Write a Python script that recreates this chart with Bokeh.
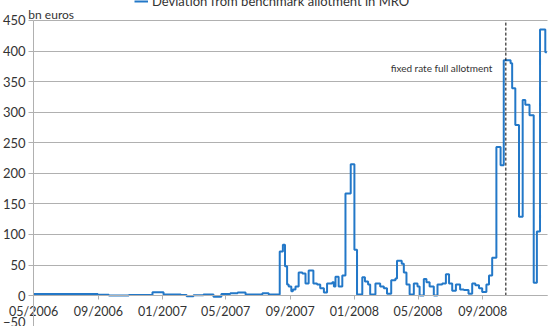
import pandas as pd
from bokeh.plotting import figure
from bokeh.models import Range1d, FixedTicker, DatetimeTickFormatter, Label, Legend, LegendItem
from bokeh.embed import file_html
from bokeh.resources import INLINE

# Weekly MRO deviation from benchmark allotment (bn euros), change points of the step line
dates = [
    "2006-05-01", "2006-08-31", "2006-09-21", "2006-10-29", "2006-12-13",
    "2007-01-03", "2007-02-05", "2007-02-16", "2007-03-01", "2007-03-20",
    "2007-04-08", "2007-04-23", "2007-05-10", "2007-05-24", "2007-06-08",
    "2007-07-10", "2007-07-22", "2007-08-12", "2007-08-18", "2007-08-22",
    "2007-08-26", "2007-08-29", "2007-09-03", "2007-09-06", "2007-09-11",
    "2007-09-17", "2007-09-24", "2007-09-30", "2007-10-06", "2007-10-15",
    "2007-10-22", "2007-10-28", "2007-11-04", "2007-11-10", "2007-11-20",
    "2007-11-23", "2007-11-26", "2007-12-02", "2007-12-09", "2007-12-15",
    "2007-12-25", "2008-01-01", "2008-01-06", "2008-01-16", "2008-01-21",
    "2008-01-27", "2008-01-31", "2008-02-10", "2008-02-19", "2008-02-26",
    "2008-03-03", "2008-03-11", "2008-03-19", "2008-03-22", "2008-03-31",
    "2008-04-04", "2008-04-09", "2008-04-15", "2008-04-23", "2008-04-30",
    "2008-05-04", "2008-05-12", "2008-05-17", "2008-05-23", "2008-05-31",
    "2008-06-07", "2008-06-16", "2008-06-23", "2008-06-29", "2008-07-05",
    "2008-07-12", "2008-07-20", "2008-07-27", "2008-08-05", "2008-08-12",
    "2008-08-18", "2008-08-25", "2008-08-31", "2008-09-08", "2008-09-13",
    "2008-09-19", "2008-09-27", "2008-10-05", "2008-10-11", "2008-10-24",
    "2008-10-27", "2008-11-02", "2008-11-09", "2008-11-16", "2008-11-21",
    "2008-11-29", "2008-12-07", "2008-12-13", "2008-12-19", "2008-12-29",
    "2009-01-01",
]
values = [
    2.5, 1.5, 0, 1, 5.5,
    2, 1, -1, 0.5, 2,
    -2, 2.5, 4, 5, 2,
    4, 2, 72, 83, 48,
    18, 15, 7, 10, 15,
    38, 36, 20, 41, 20,
    18, 12, 5, 20, 22,
    15, 31, 15, 33, 167,
    215, 75, 2, 30, 23,
    18, 2, 20, 15, 12,
    3, 25, 28, 57, 52,
    38, 18, 2, 20, 15,
    0, 27, 22, 15, 0,
    18, 20, 35, 20, 8,
    18, 10, 9, 3, 20,
    17, 12, 6, 18, 33,
    62, 243, 213, 385, 380,
    339, 279, 129, 320, 312,
    295, 21, 105, 435, 398,
    398,
]
series_name = "Deviation from benchmark allotment in MRO"
x_tick_dates = ["2006-05-01", "2006-09-01", "2007-01-01", "2007-05-01",
                "2007-09-01", "2008-01-01", "2008-05-01", "2008-09-01"]
y_ticks = [-50, 0, 50, 100, 150, 200, 250, 300, 350, 400, 450]
event_date = "2008-10-15"
event_label = "fixed rate full allotment"
unit_label = "bn euros"


def ms(d):
    return pd.Timestamp(d).timestamp() * 1000.0


FONT = "Lato"
TXT = "#333333"
GRID = "#b0b0b0"
BLUE = "#2378c8"

x_start, x_end = "2006-05-01", "2009-01-02"   # plotted period
DAY = 86400000.0

p = figure(width=549, height=326, x_axis_type="datetime", output_backend="svg",
           toolbar_location=None,
           x_range=Range1d(ms(x_start) - 63 * DAY, ms(x_end) + 4 * DAY),
           y_range=Range1d(-50.5, 482.6),
           min_border=0, min_border_left=0, min_border_right=0,
           min_border_top=0, min_border_bottom=0)
p.outline_line_color = None
p.background_fill_color = "white"

xs = [ms(d) for d in dates]
r = p.step(xs, values, mode="after", line_color=BLUE, line_width=2)

p.segment(x0=[ms(event_date)], y0=[0], x1=[ms(event_date)], y1=[450],
          line_color="black", line_width=1, line_dash="3 2")

# axes drawn at fixed locations (x axis crosses at 0)
p.xaxis.fixed_location = 0
p.xaxis.bounds = (ms(x_start), ms(x_end))
p.yaxis.fixed_location = ms(x_start)
p.yaxis.bounds = (-50, 450)
p.xaxis.ticker = FixedTicker(ticks=[ms(d) for d in x_tick_dates])
p.xaxis.formatter = DatetimeTickFormatter(
    years="%m/%Y", months="%m/%Y", days="%m/%Y", hours="%m/%Y",
    minutes="%m/%Y", seconds="%m/%Y", milliseconds="%m/%Y", microseconds="%m/%Y",
    hourmin="%m/%Y", minsec="%m/%Y")
p.yaxis.ticker = FixedTicker(ticks=y_ticks)
for ax in (p.xaxis, p.yaxis):
    ax.axis_line_color = GRID
    ax.major_tick_line_color = GRID
    ax.minor_tick_line_color = None
    ax.major_tick_in = 0
    ax.major_tick_out = 5
    ax.major_label_text_font = FONT
    ax.major_label_text_font_size = "13px"
    ax.major_label_text_color = TXT
p.xaxis.major_tick_out = 4
p.xaxis.major_label_text_font_size = "12.5px"
p.xaxis.major_label_standoff = 4
p.yaxis.major_label_standoff = 3

p.xgrid.visible = False
p.ygrid.ticker = FixedTicker(ticks=y_ticks)
p.ygrid.grid_line_color = GRID
p.ygrid.grid_line_width = 1
p.ygrid.cross_bounds = (ms(x_start), ms(x_end))

# texts
p.add_layout(Label(x=ms("2006-04-21"), y=459, text=unit_label, text_font=FONT,
                   text_font_size="12px", text_color=TXT, text_baseline="middle",
                   text_align="left"))
p.add_layout(Label(x=ms("2008-03-10"), y=372, text=event_label, text_font=FONT,
                   text_font_size="10px", text_color=TXT, text_baseline="middle",
                   text_align="left"))

legend = Legend(items=[LegendItem(label=series_name, renderers=[r])],
                location=(134, 317), orientation="horizontal",
                label_text_font=FONT, label_text_font_size="13px", label_text_color=TXT,
                glyph_width=14, glyph_height=12, label_height=12, label_standoff=4,
                padding=0, margin=0, spacing=0,
                background_fill_alpha=0, border_line_alpha=0)
p.add_layout(legend)

open("out.html", "w").write(file_html(p, INLINE))
